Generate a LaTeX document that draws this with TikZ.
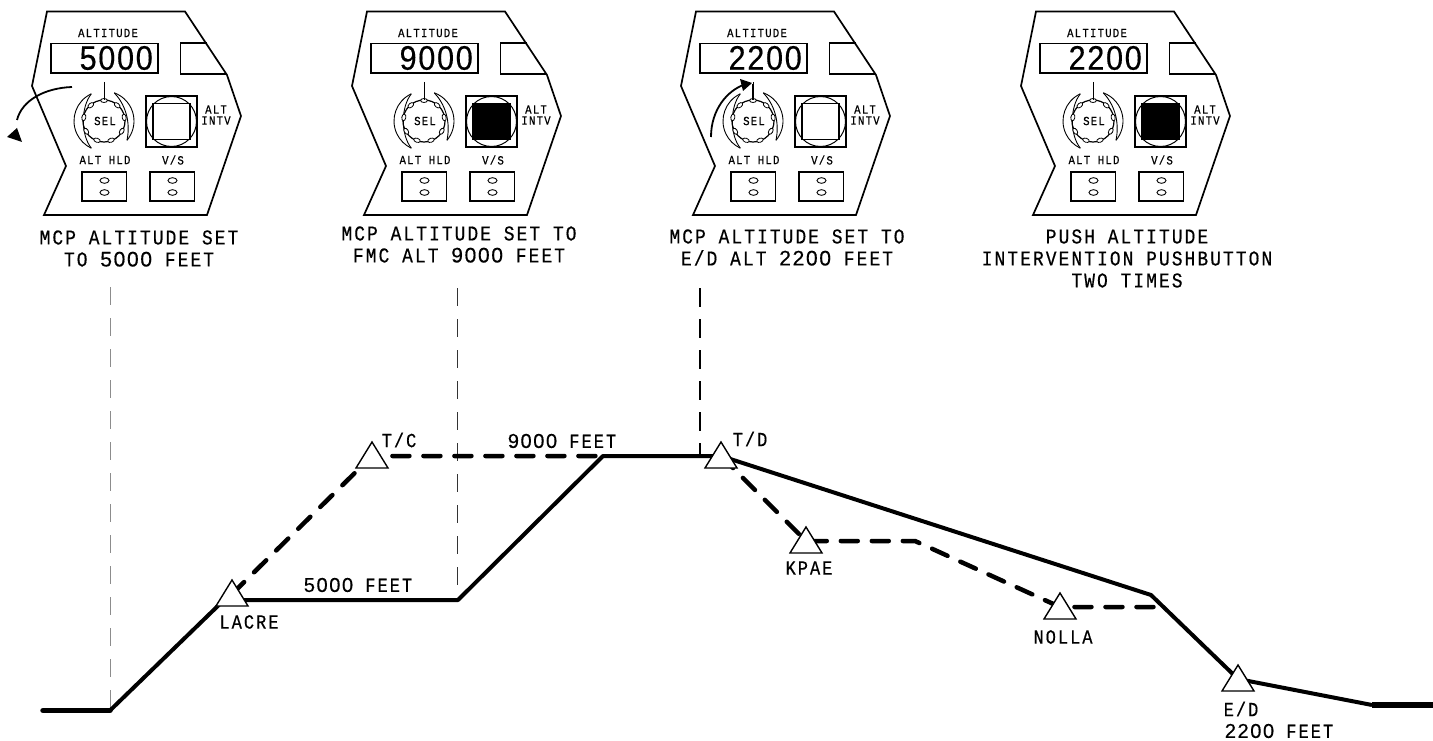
\documentclass[tikz,border=0pt]{standalone}
\usepackage{fontspec}
\setmainfont[FakeStretch=0.85,LetterSpace=10,FakeBold=0.5]{Liberation Mono}
\newfontfamily\numfont[LetterSpace=8,FakeBold=0.5]{Liberation Sans}
\newfontfamily\digitfont[FakeStretch=0.9,LetterSpace=5,FakeBold=0.4]{Liberation Sans}
\newcommand{\nm}[1]{{\numfont #1}}
\usetikzlibrary{arrows.meta}

\tikzset{
  caption/.style={font=\fontsize{21}{22}\selectfont,inner sep=0pt,align=center},
  panellabel/.style={font=\fontsize{12.5}{12.5}\selectfont,inner sep=0pt,align=center},
  routelabel/.style={font=\fontsize{20}{22}\selectfont,inner sep=0pt,align=center},
  readout/.style={font=\fontsize{34}{34}\selectfont\digitfont,inner sep=0pt,anchor=east},
  solidleg/.style={line width=4pt,line join=round},
  dashleg/.style={line width=4.5pt,line cap=round,dash pattern=on 17pt off 14pt},
  waypoint/.style={draw=black,fill=white,line width=1.4pt,line join=miter},
}

% one MCP panel, drawn at panel 1 coordinates; #1 readout, #2 button fill
\newcommand{\mcppanel}[2]{
  \draw[line width=1.7pt,line join=miter] (47,11.5) -- (185,11.5) -- (227,75) -- (241,116) -- (207,215) -- (44,215) -- (66,166) -- (32,86) -- cycle;
  \node[panellabel] at (108,33) {ALTITUDE};
  \draw[line width=1.2pt] (51,43.5) rectangle (158,73);
  \node[readout] at (153,58) {#1};
  \draw[line width=1.5pt] (207,43) -- (180.5,43) -- (180.5,74) -- (226,74);
  % selector knob
  \begin{scope}[shift={(104,121)}]
    \draw[line width=0.9pt] (115:30pt) arc[start angle=115,end angle=245,radius=30pt];
    \draw[line width=0.9pt] (115:30pt) .. controls (150:27pt) and (210:27pt) .. (245:30pt);
    \draw[line width=0.9pt] (70:30pt) arc[start angle=70,end angle=-40,radius=30pt];
    \draw[line width=0.9pt] (70:30pt) .. controls (40:27pt) and (0:27pt) .. (-40:30pt);
    \draw[line width=1.2pt] (0,0) circle (21pt);
    \foreach \a in {90,50,10,-30,-70,-110,-150,170,130}{
      \draw[line width=0.8pt,fill=white,rotate=\a] (20.5pt,0) ellipse (2pt and 3.4pt);
    }
  \end{scope}
  \draw[line width=1pt] (104,82) -- (104,100);
  \node[font=\fontsize{12.5}{12.5}\selectfont,inner sep=0pt] at (105,121) {SEL};
  % altitude intervention button
  \draw[line width=1.2pt] (146,96) rectangle (197,147);
  \draw[line width=1pt] (171.5,121.5) circle (25pt);
  \draw[line width=1.2pt,fill=#2] (153,103.5) rectangle (190,139.5);
  \node[panellabel] at (216,115) {ALT\\[-1.5pt]INTV};
  \node[panellabel] at (105,160) {ALT HLD};
  \node[panellabel] at (173,160) {V/S};
  \foreach \x in {82,150}{
    \draw[line width=1.2pt] (\x,172) rectangle (\x+44.5,201);
    \draw[line width=0.9pt] (\x+22.5,180.5) ellipse (4.5pt and 2.8pt);
    \draw[line width=0.9pt] (\x+22.5,192.5) ellipse (4.5pt and 2.8pt);
  }
}

\begin{document}
\begin{tikzpicture}[x=1pt,y=-1pt]
\useasboundingbox (0,0) rectangle (1433,741);

% ============ MCP panels ============
\begin{scope}[xshift=0pt]
\mcppanel{5000}{white}
\draw[line width=1.8pt] (72,87) .. controls (45,88) and (22,100) .. (17,120);
\fill (7,137) -- (17,128) -- (22,142) -- cycle;
\end{scope}
\begin{scope}[xshift=320pt]
\mcppanel{9000}{black}
\end{scope}
\begin{scope}[xshift=649pt]
\mcppanel{2200}{white}
\draw[line width=1.8pt] (62,137) .. controls (62,110) and (78,90) .. (97,84);
\fill (91,79) -- (103,83) -- (94,91) -- cycle;
\draw[line width=1.5pt] (104,84) -- (104,100);
\end{scope}
\begin{scope}[xshift=989pt]
\mcppanel{2200}{black}
\end{scope}

\node[caption] (capa) at (139,248.5) {MCP ALTITUDE SET\\TO \nm{5000} FEET};
\node[caption] (capb) at (459,244.5) {MCP ALTITUDE SET TO\\FMC ALT \nm{9000} FEET};
\node[caption] (capc) at (787,247.5) {MCP ALTITUDE SET TO\\E/D ALT \nm{2200} FEET};
\node[caption] (capd) at (1127,258.5) {PUSH ALTITUDE\\INTERVENTION PUSHBUTTON\\TWO TIMES};

% ============ drop lines ============
\draw[black!45,line width=1pt,dash pattern=on 18pt off 13pt] (110.5,287) -- (110.5,708);
\draw[black!80,line width=1pt,dash pattern=on 18pt off 13pt] (457.5,288) -- (457.5,600);
\draw[black,line width=1.5pt,dash pattern=on 19pt off 12pt] (700,288) -- (700,456);

% ============ waypoints ============
\coordinate (start) at (43,710.5);
\coordinate (lift) at (110,710.5);
\coordinate (lacre) at (232,594);
\coordinate (corner) at (224,600);
\coordinate (levela) at (458,600);
\coordinate (tc) at (372,456);
\coordinate (levelb) at (603,456);
\coordinate (td) at (721,456);
\coordinate (kpae) at (806,541);
\coordinate (bend) at (915,541);
\coordinate (nolla) at (1060,607);
\coordinate (join) at (1151,595);
\coordinate (joinb) at (1155,607);
\coordinate (ed) at (1238,679);
\coordinate (flare) at (1372,705);
\coordinate (stop) at (1433,705);

% ============ profile ============
\draw[dashleg] (lacre) -- (tc) -- (levelb);
\draw[dashleg] (td) -- (kpae) -- (bend) -- (nolla) -- (joinb);
\draw[solidleg,line cap=round,line width=5.5pt] (start) -- (lift);
\draw[solidleg] (lift) -- (corner) -- (levela) -- (levelb) -- (td) -- (join) -- (ed) -- (flare);
\draw[line width=5.5pt] (flare) -- (stop);

\foreach \w in {lacre,tc,td,kpae,nolla,ed}{
  \draw[waypoint] (\w) ++(0,-14) -- ++(16,26) -- ++(-32,0) -- cycle;
}

\node[routelabel] (lacretext) at (249,622) {LACRE};
\node[routelabel] (feeta) at (358,585) {\nm{5000} FEET};
\node[routelabel] (tctext) at (399,440) {T/C};
\node[routelabel] (feetb) at (562,441) {\nm{9000} FEET};
\node[routelabel] (tdtext) at (750,439) {T/D};
\node[routelabel] (kpaetext) at (809,568) {KPAE};
\node[routelabel] (nollatext) at (1063,637) {NOLLA};
\node[routelabel] (edtext) at (1241,709) {E/D};
\node[routelabel] (feetc) at (1279,731) {\nm{2200} FEET};
\end{tikzpicture}
\end{document}
